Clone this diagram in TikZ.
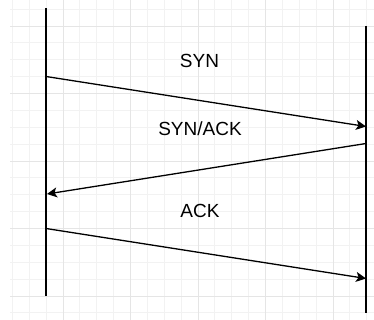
\documentclass[tikz,border=0pt]{standalone}
\usepackage{fontspec}
\setmainfont{Liberation Sans}
\usetikzlibrary{arrows.meta}
\begin{document}
\begin{tikzpicture}[x=1pt,y=-1pt,
  lifeline/.style={line width=1.3pt, black},
  msg/.style={line width=1.3pt, black, -{Stealth[length=10pt,width=10pt,inset=2.5pt]}},
  msglabel/.style={font=\fontsize{19}{22}\selectfont, inner sep=0pt, text=black},
  minorgrid/.style={draw=black!5, line width=0.9pt},
  majorgrid/.style={draw=black!10, line width=0.9pt}]
\useasboundingbox (0,0) rectangle (374,320);
\fill[white] (0,0) rectangle (374,320);

% background grid: minor lines, then every fourth line darker
\foreach \k in {0,...,21} {
  \draw[minorgrid] ({12.375+\k*16.875},0) -- ({12.375+\k*16.875},320);
}
\foreach \k in {0,...,18} {
  \draw[minorgrid] (10,{9.125+\k*16.875}) -- (374,{9.125+\k*16.875});
}
\foreach \k in {3,7,11,15,19} {
  \draw[majorgrid] ({12.375+\k*16.875},0) -- ({12.375+\k*16.875},320);
}
\foreach \k in {1,5,9,13,17} {
  \draw[majorgrid] (10,{9.125+\k*16.875}) -- (374,{9.125+\k*16.875});
}

% lifelines
\coordinate (ltop) at (46,8.5);
\coordinate (lbot) at (46,296);
\coordinate (rtop) at (366,26);
\coordinate (rbot) at (366,313);
\draw[lifeline] (ltop) -- (lbot);
\draw[lifeline] (rtop) -- (rbot);

% message end points
\coordinate (synA) at (46,76.5);
\coordinate (synB) at (366,126.5);
\coordinate (saA) at (366,143.5);
\coordinate (saB) at (47,194);
\coordinate (ackA) at (46,228.5);
\coordinate (ackB) at (366,278.5);

\draw[msg] (synA) -- (synB);
\draw[msg] (saA) -- (saB);
\draw[msg] (ackA) -- (ackB);

% labels
\node[msglabel] (synlbl) at (199.5,61) {SYN};
\node[msglabel] (salbl) at (200,128.5) {SYN/ACK};
\node[msglabel] (acklbl) at (200,211) {ACK};
\end{tikzpicture}
\end{document}
